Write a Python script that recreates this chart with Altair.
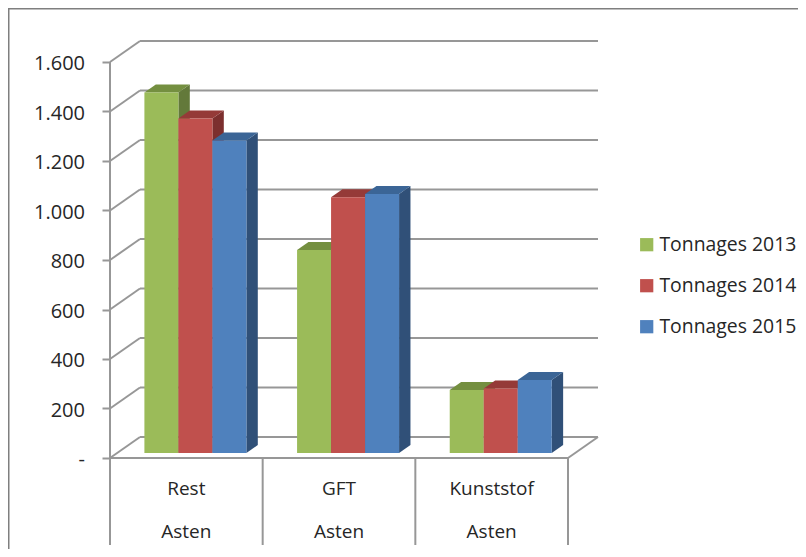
import altair as alt
import pandas as pd

categories = ["Rest", "GFT", "Kunststof"]
parent = ["Asten", "Asten", "Asten"]
series = ["Tonnages 2013", "Tonnages 2014", "Tonnages 2015"]
v2013 = [1457, 820, 255]
v2014 = [1352, 1033, 261]
v2015 = [1263, 1046, 295]
ticks = [0, 200, 400, 600, 800, 1000, 1200, 1400, 1600]

front_col = ["#9BBB59", "#C0504D", "#4F81BD"]
top_col = ["#748F40", "#953A38", "#3B6596"]
side_col = ["#63793A", "#7C2F2E", "#305078"]
GRID = "#979797"
BORDER = "#7F7F7F"
TEXT = "#262626"
FONT = "Open Sans"
FS = 19

W, H = 790, 541
X0, XG = 102.0, 458 / 3      # plot-x of category 0, px per category
Y0, YK = 450.0, 396 / 1600   # plot-y of value 0, px per unit

def ux(px):
    return px / XG
def uy(px):
    return px / YK

x_scale = alt.Scale(domain=[-X0 / XG, (W - X0) / XG], range=[0, W], nice=False, zero=False)
y_scale = alt.Scale(domain=[-(H - Y0) / YK, Y0 / YK], range=[H, 0], nice=False, zero=False)

y_axis = alt.Axis(
    values=ticks, orient="left", offset=-X0, domain=False, grid=False,
    tickSize=8, tickWidth=2, tickColor=GRID, labelPadding=17.5,
    labelFont=FONT, labelFontSize=20, labelColor=TEXT, labelOffset=1.5,
    labelExpr="datum.value == 0 ? '-\\u00a0\\u00a0\\u00a0' : replace(format(datum.value, ','), ',', '.')",
)

def X(f="x"):
    return alt.X(f"{f}:Q", scale=x_scale, axis=None, title=None)
def Y(f="y"):
    return alt.Y(f"{f}:Q", scale=y_scale, axis=y_axis, title=None)

# wall geometry
WALL_X, WALL_Y = ux(30), uy(21)
BAR_X0, BAR_W = ux(34.4), ux(34)
BAR_DX, BAR_DY = ux(11.4), uy(8)
BAR_BASE = uy(5)

grid = []
for t in ticks:
    grid.append(dict(x=0, x2=WALL_X, y=t, y2=t + WALL_Y))
    grid.append(dict(x=WALL_X, x2=3 + WALL_X, y=t + WALL_Y, y2=t + WALL_Y))
grid.append(dict(x=0, x2=3, y=0, y2=0))
grid.append(dict(x=3, x2=3 + WALL_X, y=0, y2=WALL_Y))
grid.append(dict(x=0, x2=0, y=1600, y2=0))
grid_df = pd.DataFrame(grid)

c_grid = alt.Chart(grid_df).mark_rule(color=GRID, strokeWidth=2).encode(
    x=X(), x2="x2:Q", y=Y(), y2="y2:Q")

div_df = pd.DataFrame({"x": [0, 1, 2, 3], "y": [0, 0, 0, 0]})
c_div = alt.Chart(div_df).mark_rule(color=GRID, strokeWidth=2).encode(
    x=X(), y=Y(), y2=alt.value(537))

lab_df = pd.DataFrame({"x": [i + 0.5 for i in range(3)], "cat": categories, "par": parent})
c_cat = alt.Chart(lab_df).mark_text(font=FONT, fontSize=FS, color=TEXT, baseline="alphabetic").encode(
    x=X(), y=alt.value(487), text="cat:N")
c_par = alt.Chart(lab_df).mark_text(font=FONT, fontSize=FS, color=TEXT, baseline="alphabetic").encode(
    x=X(), y=alt.value(530), text="par:N")

color = alt.Color("s:N", scale=alt.Scale(domain=series, range=front_col), legend=alt.Legend(
    orient="none", legendX=629, legendY=227, title=None, padding=0,
    symbolType="square", symbolSize=175, symbolStrokeWidth=0, symbolOpacity=1,
    labelFont=FONT, labelFontSize=19.4, labelColor=TEXT, labelOffset=3, rowPadding=20,
    labelLimit=200,
))

bar_layers = []
for si, (name, vals) in enumerate(zip(series, [v2013, v2014, v2015])):
    fronts, sides, tops = [], [], []
    for g, v in enumerate(vals):
        xl = g + BAR_X0 + si * BAR_W
        xr = xl + BAR_W
        base = BAR_BASE
        top = v + BAR_BASE
        fronts.append(dict(s=name, x=xl, x2=xr, y=base, y2=top))
        sides.append(dict(f=g, x=xr, y=base, y2=top))
        sides.append(dict(f=g, x=xr + BAR_DX, y=base + BAR_DY, y2=top + BAR_DY))
        tops.append(dict(f=g, x=xl, y=top, y2=top))
        tops.append(dict(f=g, x=xl + BAR_DX, y=top, y2=top + BAR_DY))
        tops.append(dict(f=g, x=xr, y=top, y2=top + BAR_DY))
        tops.append(dict(f=g, x=xr + BAR_DX, y=top + BAR_DY, y2=top + BAR_DY))
    bar_layers.append(alt.Chart(pd.DataFrame(sides)).mark_area(color=side_col[si]).encode(
        x=X(), y=Y(), y2="y2:Q", detail="f:N"))
    bar_layers.append(alt.Chart(pd.DataFrame(tops)).mark_area(color=top_col[si]).encode(
        x=X(), y=Y(), y2="y2:Q", detail="f:N"))
    bar_layers.append(alt.Chart(pd.DataFrame(fronts)).mark_rect().encode(
        x=X(), x2="x2:Q", y=Y(), y2="y2:Q", color=color))

one = pd.DataFrame({"a": [0]})
b_top = alt.Chart(one).mark_rule(color=BORDER, strokeWidth=2).encode(
    x=alt.value(0), x2=alt.value(W), y=alt.value(0.5))
b_left = alt.Chart(one).mark_rule(color=BORDER, strokeWidth=2).encode(
    x=alt.value(0.5), y=alt.value(0), y2=alt.value(H))

chart = alt.layer(c_grid, c_div, c_cat, c_par, *bar_layers, b_top, b_left).properties(
    width=W, height=H, padding=0, background="white",
    autosize=alt.AutoSizeParams(type="none"),
).configure_view(stroke=None)

chart.save("out.html", embed_options={"renderer": "svg", "actions": False})
